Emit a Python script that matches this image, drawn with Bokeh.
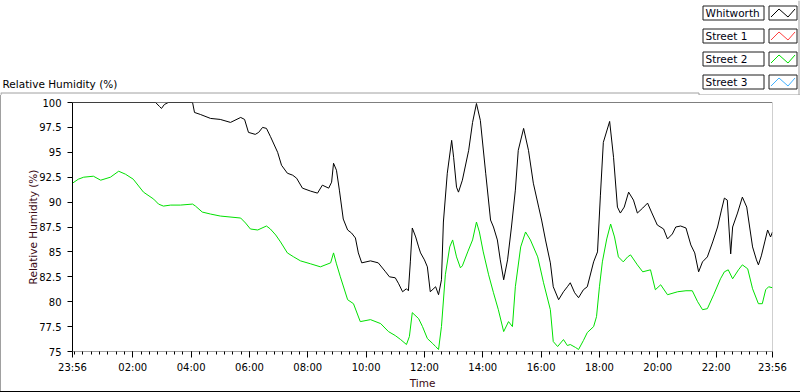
from bokeh.plotting import figure
from bokeh.models import Range1d, FixedTicker, Span, Div
from bokeh.layouts import column, row
from bokeh.core.properties import value
from bokeh.embed import file_html
from bokeh.resources import INLINE

# ---------------- data ----------------
series_names = ["Whitworth", "Street 1", "Street 2", "Street 3"]
series_colors = ["#000000", "#ff4040", "#00e000", "#40b0ff"]

# minutes elapsed since 23:56 (start of the record)
whitworth_t = [0, 171, 179, 183, 189, 197, 247, 251, 263, 284, 304, 325, 346, 354, 362, 376,
               383, 391, 399, 407, 422, 430, 442, 453, 461, 473, 490, 504, 514, 527, 533, 537,
               543, 549, 557, 566, 574, 582, 588, 595, 613, 629, 644, 652, 664, 671, 679, 687,
               691, 695, 699, 706, 712, 716, 724, 730, 736, 747, 753, 759, 763, 771, 780, 784,
               790, 794, 802, 815, 823, 831, 839, 850, 860, 866, 874, 880, 887, 895, 903, 911,
               917, 928, 938, 948, 959, 965, 973, 983, 989, 1000, 1010, 1018, 1024, 1033, 1041,
               1051, 1059, 1072, 1080, 1086, 1092, 1105, 1113, 1121, 1127, 1135, 1144, 1154,
               1162, 1173, 1183, 1191, 1203, 1216, 1224, 1234, 1241, 1251, 1262, 1272, 1280,
               1288, 1296, 1306, 1317, 1327, 1335, 1341, 1347, 1351, 1354, 1358, 1368, 1378,
               1387, 1393, 1399, 1407, 1411, 1417, 1424, 1430, 1436, 1440]
whitworth_rh = [100, 100, 99.6, 99.4, 99.8, 100, 100, 99.0, 98.8, 98.4, 98.3, 98.0, 98.5, 98.3,
                97.0, 96.8, 97.0, 97.5, 97.4, 96.6, 95.0, 93.7, 92.9, 92.7, 92.4, 91.4, 91.1,
                90.9, 91.7, 91.4, 92.0, 93.9, 93.2, 91.2, 88.3, 87.2, 86.9, 86.4, 84.9, 83.9,
                84.1, 83.9, 83.0, 82.5, 82.4, 81.8, 81.0, 81.3, 81.1, 84.0, 87.4, 86.5, 85.5,
                84.9, 84.2, 83.5, 81.0, 81.5, 80.7, 82.2, 88.0, 92.9, 96.2, 94.5, 91.5, 91.0,
                92.2, 95.2, 98.0, 99.9, 98.2, 92.9, 88.2, 87.5, 86.2, 84.2, 82.2, 84.2, 87.5,
                91.2, 95.2, 97.4, 95.2, 91.9, 89.5, 88.2, 86.2, 83.9, 81.5, 80.2, 81.0, 81.5,
                81.9, 80.9, 80.4, 81.2, 81.5, 84.0, 85.0, 90.7, 96.0, 98.1, 94.5, 89.5, 88.9,
                89.5, 91.0, 90.2, 88.9, 89.4, 89.9, 89.0, 87.7, 87.3, 86.3, 86.8, 87.5, 87.6,
                87.4, 85.7, 84.9, 83.0, 84.0, 84.5, 86.0, 87.5, 89.2, 90.4, 90.2, 87.0, 84.8,
                87.5, 88.9, 90.5, 89.5, 87.5, 85.5, 84.2, 83.7, 84.6, 86.0, 87.2, 86.5, 87.0]

street2_t = [0, 12, 23, 43, 58, 78, 95, 109, 125, 146, 167, 177, 187, 202, 222, 247, 253, 267,
             284, 304, 346, 356, 366, 381, 399, 407, 418, 428, 442, 455, 469, 490, 510, 531,
             537, 543, 551, 566, 578, 592, 613, 634, 650, 664, 675, 687, 693, 699, 712, 720,
             730, 741, 747, 753, 759, 767, 776, 782, 790, 798, 802, 813, 823, 831, 837, 845,
             856, 866, 876, 887, 897, 905, 911, 922, 932, 942, 957, 969, 983, 989, 998, 1010,
             1018, 1024, 1035, 1041, 1051, 1059, 1072, 1078, 1084, 1090, 1099, 1107, 1115,
             1123, 1133, 1142, 1148, 1162, 1173, 1189, 1199, 1210, 1224, 1245, 1262, 1275,
             1286, 1296, 1306, 1319, 1333, 1341, 1349, 1358, 1370, 1378, 1389, 1399, 1411,
             1419, 1426, 1432, 1440]
street2_rh = [91.9, 92.3, 92.5, 92.6, 92.2, 92.5, 93.1, 92.8, 92.3, 91.0, 90.3, 89.8, 89.6,
              89.7, 89.7, 89.8, 89.6, 89.0, 88.8, 88.6, 88.4, 87.9, 87.3, 87.2, 87.6, 87.3,
              86.7, 86.0, 84.9, 84.5, 84.1, 83.8, 83.5, 83.9, 84.9, 83.8, 82.5, 80.2, 79.8,
              78.0, 78.2, 77.8, 77.0, 76.6, 76.2, 75.7, 76.5, 78.9, 78.3, 77.5, 76.3, 75.8,
              75.5, 75.2, 77.5, 82.7, 85.5, 86.2, 84.5, 83.4, 83.6, 85.0, 86.2, 88.0, 87.0,
              85.0, 82.7, 80.9, 79.2, 77.0, 78.0, 77.5, 81.5, 85.5, 87.0, 86.2, 84.5, 81.9,
              79.2, 76.0, 75.5, 76.2, 75.6, 75.7, 75.4, 75.2, 76.1, 76.9, 77.5, 78.5, 81.5,
              84.0, 86.3, 87.8, 86.5, 84.5, 84.0, 84.5, 84.7, 83.7, 83.0, 83.2, 81.2, 81.7,
              80.7, 81.0, 81.1, 81.1, 80.0, 79.2, 79.3, 80.7, 82.3, 83.0, 83.2, 82.3, 83.2,
              83.7, 83.3, 81.3, 79.8, 79.8, 81.2, 81.5, 81.4]

x_tick_minutes = [0, 124, 244, 364, 484, 604, 724, 844, 964, 1084, 1204, 1324, 1440]
x_tick_labels = ["23:56", "02:00", "04:00", "06:00", "08:00", "10:00", "12:00", "14:00",
                 "16:00", "18:00", "20:00", "22:00", "23:56"]
y_ticks = [75, 77.5, 80, 82.5, 85, 87.5, 90, 92.5, 95, 97.5, 100]
y_tick_labels = ["75", "77.5", "80", "82.5", "85", "87.5", "90", "92.5", "95", "97.5", "100"]

FONT = "DejaVu Sans"
LABEL_COLOR = "#3a0a14"
GRAY = "#a0a0a0"

# ---------------- top strip: title + legend panel (pixel coordinates) ----------------
top = figure(width=800, height=95, x_range=Range1d(0, 800), y_range=Range1d(95, 0),
             output_backend="svg", toolbar_location=None, min_border=0,
             x_axis_location=None, y_axis_location=None, outline_line_color=None)
top.grid.visible = False
top.background_fill_color = "white"
top.border_fill_color = "white"

top.text(x=[2], y=[83], text=["Relative Humidity (%)"], text_font=value(FONT),
         text_font_size="10.5px", text_baseline="middle", text_align="left",
         text_color="black")
top.multi_line(xs=[[0, 698.5], [698.5, 698.5], [698.5, 800], [798.5, 798.5], [0.5, 0.5]],
               ys=[[92.5, 92.5], [92.5, 94.5], [94.5, 94.5], [0, 94.5], [92.5, 95]],
               line_color=GRAY, line_width=1)

row_tops = [5.5 + 23 * i for i in range(len(series_names))]
row_bots = [t + 14 for t in row_tops]
top.quad(left=[702.5] * 4, right=[763.5] * 4, top=row_tops, bottom=row_bots,
         fill_color="white", line_color="#1e1e1e", line_width=1)
top.quad(left=[768.5] * 4, right=[796.5] * 4, top=row_tops, bottom=row_bots,
         fill_color="white", line_color="#1e1e1e", line_width=1)
top.text(x=[705] * 4, y=[t + 7 for t in row_tops], text=series_names, text_font=value(FONT),
         text_font_size="10.5px", text_baseline="middle", text_align="left",
         text_color="#000010")
zx = [770.5, 778.5, 787.5, 794.5]
top.multi_line(xs=[zx] * 4,
               ys=[[b - 3, t + 3, b - 3, t + 3] for t, b in zip(row_tops, row_bots)],
               line_color=series_colors, line_width=1)

# ---------------- main chart ----------------
p = figure(width=799, height=296, x_range=Range1d(0, 1440), y_range=Range1d(75, 100),
           output_backend="svg", toolbar_location=None,
           min_border_left=71, min_border_right=28, min_border_top=7, min_border_bottom=39,
           x_axis_label="Time", y_axis_label="Relative Humidity (%)", margin=0)
p.grid.visible = False
p.outline_line_color = None
p.background_fill_color = "white"
p.border_fill_color = "white"

p.line(whitworth_t, whitworth_rh, line_color=series_colors[0], line_width=1)
p.line(street2_t, street2_rh, line_color=series_colors[2], line_width=1)

# minor ticks: 7 per two hours, starting at 00:00 (4 min after start)
minor = []
m = 4.0
while m < 1440:
    minor.append(m)
    m += 120.0 / 7.0

xa = p.xaxis[0]
xa.ticker = FixedTicker(ticks=x_tick_minutes, minor_ticks=minor)
xa.major_label_overrides = dict(zip(x_tick_minutes, x_tick_labels))
xa.axis_line_color = GRAY
xa.major_tick_line_color = "black"
xa.minor_tick_line_color = "black"
xa.major_tick_out = 6
xa.major_tick_in = 0
xa.minor_tick_out = 3
xa.minor_tick_in = 0
xa.major_label_standoff = 4
xa.axis_label_standoff = 1
xa.major_label_text_font = FONT
xa.major_label_text_font_size = "10px"
xa.major_label_text_color = "black"
xa.axis_label_text_font = FONT
xa.axis_label_text_font_size = "10.5px"
xa.axis_label_text_font_style = "normal"
xa.axis_label_text_color = LABEL_COLOR

ya = p.yaxis[0]
ya.ticker = FixedTicker(ticks=y_ticks)
ya.major_label_overrides = dict(zip(y_ticks, y_tick_labels))
ya.axis_line_color = "black"
ya.major_tick_line_color = "black"
ya.minor_tick_line_color = None
ya.major_tick_out = 5
ya.major_tick_in = 0
ya.major_label_standoff = 6
ya.axis_label_standoff = -3
ya.major_label_text_font = FONT
ya.major_label_text_font_size = "10px"
ya.major_label_text_color = "black"
ya.axis_label_text_font = FONT
ya.axis_label_text_font_size = "10.5px"
ya.axis_label_text_font_style = "normal"
ya.axis_label_text_color = LABEL_COLOR

# plot frame: dark top edge, light right edge
p.add_layout(Span(location=100, dimension="width", line_color="black", line_width=1))
p.add_layout(Span(location=1440, dimension="height", line_color=GRAY, line_width=1))

left_edge = Div(text="", width=1, height=296, margin=0,
                styles={"background-color": GRAY, "padding": "0", "margin": "0"})
bottom_edge = Div(text="", width=800, height=1, margin=0,
                  styles={"background-color": "black", "padding": "0", "margin": "0"})

layout = column(top, row(left_edge, p, spacing=0, margin=0), bottom_edge,
                spacing=0, margin=0)

open("out.html", "w").write(file_html(layout, INLINE))
